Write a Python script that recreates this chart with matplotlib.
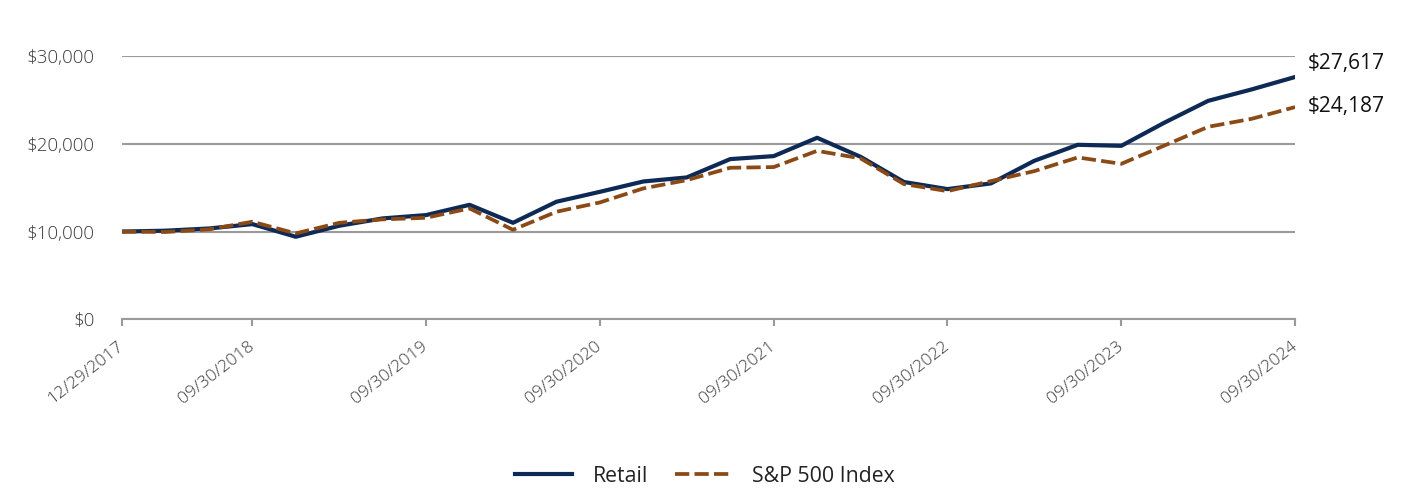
import matplotlib.pyplot as plt
import numpy as np

plt.rcParams["font.family"] = ["Open Sans", "DejaVu Sans"]

# quarter-end dates (x categories)
dates = [
    "12/29/2017", "03/31/2018", "06/30/2018", "09/30/2018",
    "12/31/2018", "03/31/2019", "06/30/2019", "09/30/2019",
    "12/31/2019", "03/31/2020", "06/30/2020", "09/30/2020",
    "12/31/2020", "03/31/2021", "06/30/2021", "09/30/2021",
    "12/31/2021", "03/31/2022", "06/30/2022", "09/30/2022",
    "12/31/2022", "03/31/2023", "06/30/2023", "09/30/2023",
    "12/31/2023", "03/31/2024", "06/30/2024", "09/30/2024",
]
tick_labels = ["12/29/2017", "09/30/2018", "09/30/2019", "09/30/2020",
               "09/30/2021", "09/30/2022", "09/30/2023", "09/30/2024"]

retail = [10000, 10100, 10350, 10850, 9410, 10660, 11500, 11880,
          13050, 11000, 13400, 14530, 15710, 16170, 18260, 18600,
          20690, 18520, 15650, 14840, 15490, 18070, 19890, 19770,
          22430, 24900, 26200, 27617]
sp500 = [10000, 9950, 10250, 11120, 9790, 11000, 11390, 11570,
         12640, 10200, 12260, 13320, 14920, 15860, 17270, 17350,
         19200, 18340, 15410, 14610, 15750, 16890, 18450, 17720,
         19820, 21940, 22850, 24187]

navy = "#0c2a55"
brown = "#8b4a14"
grid_grey = "#9a9a9a"
text_grey = "#3a3a3a"

fig = plt.figure(figsize=(14.28, 4.92), dpi=100)
ax = fig.add_axes([0.0854, 0.351, 0.9069 - 0.0854, 0.886 - 0.351])

x = np.arange(len(dates))
ax.plot(x, retail, color=navy, lw=3.0, label="Retail", zorder=3)
ax.plot(x, sp500, color=brown, lw=2.7, dashes=(3.8, 1.4), label="S&P 500 Index", zorder=3)

ax.set_xlim(0, len(dates) - 1)
ax.set_ylim(0, 30000)
ax.set_yticks([0, 10000, 20000, 30000])
ax.set_yticklabels([f"${v:,.0f}" for v in [0, 10000, 20000, 30000]],
                   fontweight="light")
ax.yaxis.grid(True, color=grid_grey, lw=1.5)
ax.set_axisbelow(True)

tick_pos = [dates.index(d) for d in tick_labels]
ax.set_xticks(tick_pos)
ax.set_xticklabels(tick_labels, rotation=38, ha="right", va="center",
                   rotation_mode="anchor", fontsize=12.5, color=text_grey,
                   fontweight="light")
ax.tick_params(axis="x", direction="out", length=5, width=1.5, color=grid_grey, pad=13)
ax.tick_params(axis="y", length=0, pad=19.5, labelsize=13.5, labelcolor=text_grey)

for side in ["top", "right", "left"]:
    ax.spines[side].set_visible(False)
ax.spines["bottom"].set_color(grid_grey)
ax.spines["bottom"].set_linewidth(1.5)

# end-of-series value labels
ax.annotate(f"${retail[-1]:,}", xy=(x[-1], retail[-1]), xytext=(9.5, 9.5),
            textcoords="offset points", fontsize=15, color="#111111", va="center")
ax.annotate(f"${sp500[-1]:,}", xy=(x[-1], sp500[-1]), xytext=(9.5, 0.5),
            textcoords="offset points", fontsize=15, color="#111111", va="center")

fig.legend(loc="center", bbox_to_anchor=(705 / 1428, 1 - 476 / 492), ncol=2,
           frameon=False, fontsize=15.3, labelcolor="#222222",
           handlelength=2.7, handletextpad=0.94, columnspacing=1.27)

fig.savefig("out.png", dpi=100)
